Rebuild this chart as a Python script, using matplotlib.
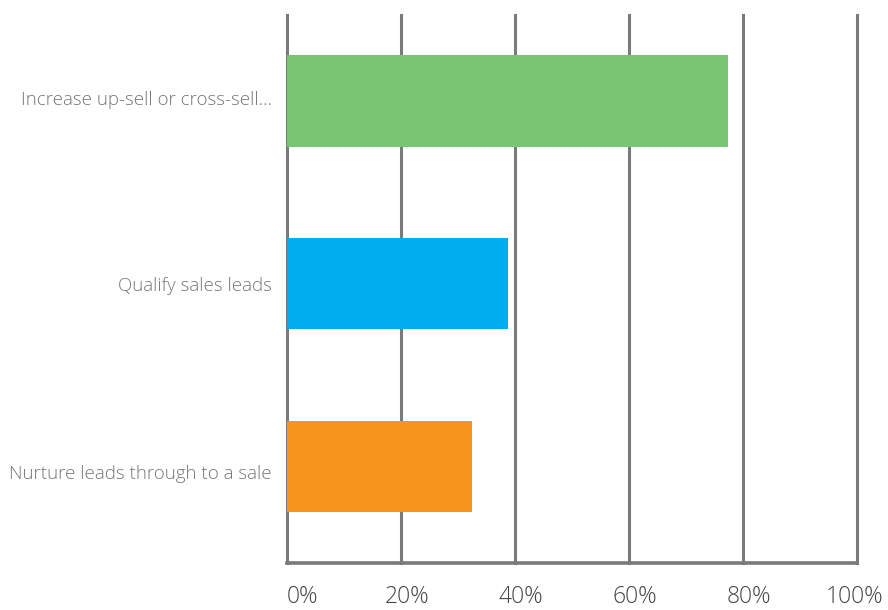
import matplotlib
matplotlib.use('Agg')
import matplotlib.pyplot as plt
import matplotlib.transforms as mtransforms

categories = ['Increase up-sell or cross-sell...', 'Qualify sales leads', 'Nurture leads through to a sale']
values = [77.3, 38.8, 32.5]
colors = ['#7AC572', '#00AEEF', '#F7941E']
xticks = [0, 20, 40, 60, 80, 100]
xtick_labels = ['0%', '20%', '40%', '60%', '80%', '100%']

plt.rcParams['font.family'] = ['Open Sans', 'DejaVu Sans']

fig = plt.figure(figsize=(8.88, 6.10), dpi=100)
ax = fig.add_axes([287 / 888, 47 / 610, 570 / 888, 548 / 610])

ax.barh(range(len(categories)), values, height=0.5, color=colors, zorder=3)

ax.set_xlim(0, 100)
ax.set_ylim(2.53, -0.47)

for x in xticks:
    ax.axvline(x, color='#7a7a7a', linewidth=2.2, zorder=1, clip_on=False)

for side in ['top', 'right', 'left']:
    ax.spines[side].set_visible(False)
ax.spines['bottom'].set_color('#7a7a7a')
ax.spines['bottom'].set_linewidth(2.6)
ax.spines['bottom'].set_zorder(4)

ax.set_xticks(xticks)
ax.set_xticklabels(xtick_labels, fontsize=16.5, color='#444444', fontweight='light')
ax.tick_params(axis='x', length=0, pad=16)
offset = mtransforms.ScaledTranslation(6 / 100, 0, fig.dpi_scale_trans)
for lbl in ax.get_xticklabels():
    lbl.set_transform(lbl.get_transform() + offset)
first = ax.get_xticklabels()[0]
first.set_transform(first.get_transform() + mtransforms.ScaledTranslation(10 / 100, 0, fig.dpi_scale_trans))
last = ax.get_xticklabels()[-1]
last.set_transform(last.get_transform() + mtransforms.ScaledTranslation(-8 / 100, 0, fig.dpi_scale_trans))

ax.set_yticks(range(len(categories)))
ax.set_yticklabels(categories, fontsize=13.5, color='#777777', fontweight='light')
ax.tick_params(axis='y', length=0, pad=11)
# the reference draws the first and last labels a little off the bar centres
ylbls = ax.get_yticklabels()
ylbls[0].set_transform(ylbls[0].get_transform() + mtransforms.ScaledTranslation(0, 3 / 100, fig.dpi_scale_trans))
ylbls[2].set_transform(ylbls[2].get_transform() + mtransforms.ScaledTranslation(0, -6 / 100, fig.dpi_scale_trans))

fig.savefig('out.png', dpi=100)
